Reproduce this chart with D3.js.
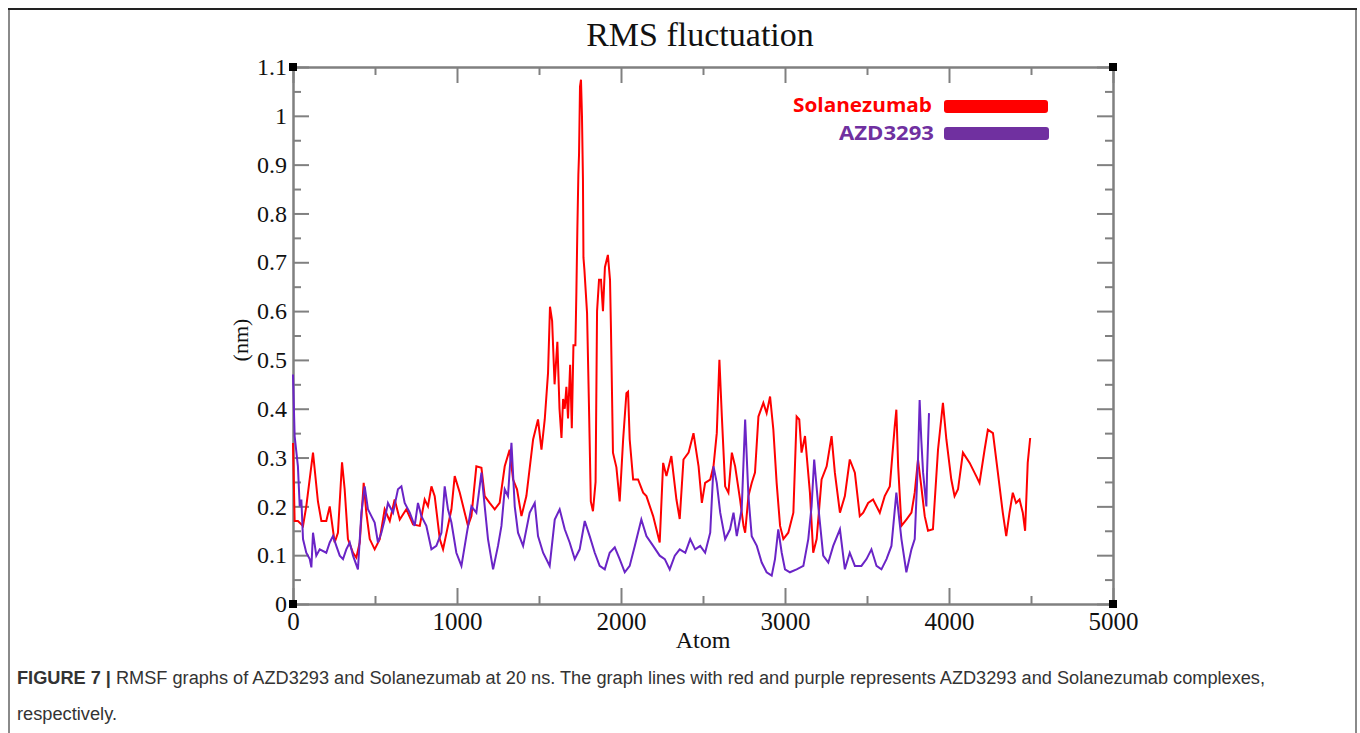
<!DOCTYPE html>
<html>
<head>
<meta charset="utf-8">
<script src="https://cdn.jsdelivr.net/npm/d3@7"></script>
<style>
  body { margin: 0; background: #fff; }
  svg { display: block; }
  .axis path, .axis line { stroke: #808080; stroke-width: 2; }
  .axis text { font-family: "Liberation Serif", "DejaVu Serif", serif; fill: #111; }
</style>
</head>
<body>
<div id="chart"></div>
<script>
let margin = ({top: 67, right: 247, bottom: 129, left: 293});
let width = 820;
let height = 537;

////////////////////////////////
//   Data
////////////////////////////////
let xMajor = [0, 1000, 2000, 3000, 4000, 5000];
let xMinor = [500, 1500, 2500, 3500, 4500];
let yMajor = [0, 0.1, 0.2, 0.3, 0.4, 0.5, 0.6, 0.7, 0.8, 0.9, 1.0, 1.1];
let yMinor = [0.05, 0.15, 0.25, 0.35, 0.45, 0.55, 0.65, 0.75, 0.85, 0.95, 1.05];
let yLabels = ["0", "0.1", "0.2", "0.3", "0.4", "0.5", "0.6", "0.7", "0.8", "0.9", "1", "1.1"];

let seriesNames = ["Solanezumab", "AZD3293"];

let solAtom = [0, 10, 30, 61, 81, 122, 152, 173, 203, 224, 254, 274, 299, 315, 335, 366, 386, 407, 431, 447,
  468, 498, 529, 559, 590, 620, 651, 691, 732, 773, 803, 823, 844, 864, 895, 915, 945, 966, 986, 1017,
  1047, 1067, 1088, 1118, 1149, 1169, 1199, 1230, 1260, 1291, 1321, 1342, 1366, 1393, 1423, 1464, 1494, 1515, 1535, 1555,
  1567, 1580, 1595, 1612, 1625, 1637, 1647, 1657, 1667, 1677, 1690, 1700, 1710, 1722, 1728, 1734, 1740, 1744, 1750, 1756,
  1762, 1768, 1771, 1777, 1793, 1805, 1816, 1829, 1845, 1854, 1866, 1878, 1890, 1902, 1920, 1933, 1939, 1951, 1972, 1992,
  2013, 2033, 2043, 2053, 2074, 2104, 2135, 2155, 2196, 2216, 2236, 2257, 2277, 2307, 2338, 2358, 2381, 2412, 2442, 2473,
  2493, 2513, 2544, 2564, 2584, 2600, 2615, 2635, 2655, 2676, 2696, 2726, 2747, 2757, 2777, 2797, 2817, 2838, 2868, 2888,
  2909, 2929, 2949, 2970, 2990, 3020, 3051, 3071, 3087, 3101, 3122, 3152, 3172, 3193, 3223, 3254, 3284, 3304, 3335, 3365,
  3395, 3426, 3456, 3477, 3507, 3537, 3578, 3608, 3639, 3669, 3679, 3690, 3710, 3740, 3771, 3791, 3811, 3831, 3852, 3872,
  3902, 3933, 3963, 3984, 4014, 4034, 4055, 4085, 4126, 4166, 4186, 4217, 4237, 4268, 4298, 4328, 4349, 4369, 4389, 4409,
  4430, 4450, 4464, 4480, 4495];
let solRmsf = [0.33, 0.17, 0.17, 0.16, 0.20, 0.31, 0.21, 0.17, 0.17, 0.20, 0.126, 0.146, 0.29, 0.235, 0.133, 0.105, 0.095, 0.126, 0.248, 0.187,
  0.133, 0.112, 0.133, 0.194, 0.17, 0.214, 0.173, 0.194, 0.163, 0.16, 0.214, 0.2, 0.241, 0.221, 0.133, 0.112, 0.16, 0.194, 0.262, 0.228,
  0.187, 0.16, 0.18, 0.282, 0.279, 0.221, 0.207, 0.194, 0.207, 0.282, 0.316, 0.255, 0.235, 0.18, 0.221, 0.337, 0.378, 0.316, 0.378, 0.473,
  0.609, 0.58, 0.45, 0.537, 0.40, 0.34, 0.42, 0.40, 0.445, 0.38, 0.49, 0.36, 0.53, 0.53, 0.64, 0.77, 0.88, 0.92, 1.06, 1.074,
  1.0, 0.87, 0.71, 0.684, 0.596, 0.40, 0.21, 0.19, 0.25, 0.60, 0.664, 0.664, 0.60, 0.69, 0.715, 0.664, 0.56, 0.31, 0.28, 0.21,
  0.337, 0.432, 0.435, 0.337, 0.255, 0.255, 0.228, 0.221, 0.18, 0.153, 0.126, 0.289, 0.262, 0.303, 0.214, 0.174, 0.296, 0.31, 0.35, 0.282,
  0.207, 0.248, 0.255, 0.282, 0.35, 0.5, 0.384, 0.241, 0.228, 0.31, 0.282, 0.214, 0.16, 0.146, 0.221, 0.248, 0.269, 0.384, 0.412, 0.391,
  0.425, 0.357, 0.248, 0.16, 0.133, 0.146, 0.187, 0.384, 0.378, 0.31, 0.344, 0.228, 0.105, 0.133, 0.255, 0.282, 0.344, 0.269, 0.187, 0.221,
  0.296, 0.269, 0.18, 0.187, 0.207, 0.214, 0.187, 0.221, 0.241, 0.364, 0.398, 0.282, 0.16, 0.173, 0.187, 0.228, 0.296, 0.241, 0.18, 0.15,
  0.153, 0.316, 0.412, 0.337, 0.255, 0.221, 0.235, 0.31, 0.289, 0.262, 0.248, 0.316, 0.357, 0.35, 0.269, 0.187, 0.139, 0.187, 0.228, 0.207,
  0.214, 0.187, 0.15, 0.289, 0.34];

let azdAtom = [0, 10, 30, 41, 51, 61, 81, 102, 112, 122, 142, 163, 203, 224, 244, 264, 285, 305, 325, 346,
  366, 396, 417, 437, 457, 478, 498, 518, 539, 559, 579, 610, 640, 661, 681, 712, 742, 762, 783, 813,
  844, 874, 905, 925, 945, 966, 996, 1027, 1057, 1088, 1118, 1149, 1169, 1189, 1220, 1250, 1271, 1291, 1311, 1332,
  1352, 1372, 1403, 1443, 1474, 1494, 1525, 1565, 1596, 1626, 1657, 1687, 1718, 1748, 1779, 1809, 1840, 1870, 1901, 1931,
  1962, 1992, 2023, 2053, 2084, 2124, 2155, 2196, 2236, 2267, 2297, 2328, 2358, 2392, 2422, 2452, 2483, 2513, 2544, 2564,
  2584, 2605, 2635, 2665, 2686, 2706, 2736, 2757, 2777, 2797, 2828, 2858, 2888, 2919, 2939, 2959, 2980, 3000, 3030, 3071,
  3112, 3142, 3162, 3178, 3203, 3233, 3264, 3294, 3335, 3365, 3395, 3426, 3466, 3497, 3527, 3558, 3588, 3619, 3649, 3679,
  3710, 3740, 3771, 3791, 3811, 3821, 3831, 3842, 3862, 3866, 3878];
let azdRmsf = [0.47, 0.344, 0.282, 0.2, 0.214, 0.133, 0.105, 0.092, 0.075, 0.146, 0.099, 0.112, 0.105, 0.126, 0.139, 0.119, 0.099, 0.092, 0.112, 0.126,
  0.099, 0.071, 0.187, 0.241, 0.194, 0.18, 0.167, 0.126, 0.146, 0.173, 0.207, 0.187, 0.235, 0.241, 0.207, 0.187, 0.16, 0.207, 0.18, 0.16,
  0.112, 0.119, 0.146, 0.241, 0.194, 0.167, 0.105, 0.078, 0.139, 0.2, 0.187, 0.269, 0.2, 0.133, 0.071, 0.119, 0.16, 0.235, 0.221, 0.33,
  0.2, 0.146, 0.119, 0.187, 0.207, 0.139, 0.105, 0.078, 0.173, 0.194, 0.153, 0.126, 0.092, 0.112, 0.17, 0.139, 0.105, 0.078, 0.071, 0.105,
  0.116, 0.092, 0.065, 0.078, 0.119, 0.173, 0.139, 0.119, 0.099, 0.092, 0.071, 0.099, 0.112, 0.105, 0.133, 0.112, 0.119, 0.105, 0.146, 0.282,
  0.248, 0.187, 0.133, 0.153, 0.187, 0.139, 0.194, 0.378, 0.221, 0.139, 0.119, 0.085, 0.065, 0.058, 0.092, 0.153, 0.105, 0.071, 0.065, 0.071,
  0.078, 0.133, 0.2, 0.296, 0.2, 0.099, 0.085, 0.119, 0.153, 0.071, 0.105, 0.078, 0.078, 0.092, 0.112, 0.078, 0.071, 0.092, 0.119, 0.228,
  0.133, 0.065, 0.112, 0.133, 0.296, 0.418, 0.337, 0.269, 0.2, 0.269, 0.391];

let seriesColors = ["#ff0000", "#6a24c6"];
let legendColors = ["#ff0000", "#7030a0"];

/////////////////////////////
//   Setup Chart Elements
/////////////////////////////
let svg = d3.select("#chart")
  .append("svg")
  .attr("width", width + margin.left + margin.right)
  .attr("height", height + margin.top + margin.bottom);

// figure frame
svg.append("path")
  .attr("d", "M9,740 V9 M1356,9 V740")
  .attr("fill", "none")
  .attr("stroke", "#8a8a8a")
  .attr("stroke-width", 2);
svg.append("line")
  .attr("x1", 8).attr("x2", 1357).attr("y1", 9).attr("y2", 9)
  .attr("stroke", "#222").attr("stroke-width", 2);

svg.append("text")
  .attr("x", margin.left + width / 2 - 3)
  .attr("y", 46)
  .attr("text-anchor", "middle")
  .attr("font-family", "'Liberation Serif', serif")
  .attr("font-size", "34px")
  .attr("fill", "#111")
  .text("RMS fluctuation");

let g = svg.append("g")
  .attr("transform", "translate(" + margin.left + ", " + margin.top + ")");

let x = d3.scaleLinear().domain([0, 5000]).range([0, width]);
let y = d3.scaleLinear().domain([0, 1.1]).range([height, 0]);

// minor ticks on all four sides
g.append("g").attr("class", "axis").attr("transform", "translate(0," + height + ")")
  .call(d3.axisBottom(x).tickValues(xMinor).tickSize(-8).tickSizeOuter(0).tickFormat(""));
g.append("g").attr("class", "axis")
  .call(d3.axisTop(x).tickValues(xMinor).tickSize(-8).tickSizeOuter(0).tickFormat(""));
g.append("g").attr("class", "axis")
  .call(d3.axisLeft(y).tickValues(yMinor).tickSize(-8).tickSizeOuter(0).tickFormat(""));
g.append("g").attr("class", "axis").attr("transform", "translate(" + width + ",0)")
  .call(d3.axisRight(y).tickValues(yMinor).tickSize(-8).tickSizeOuter(0).tickFormat(""));

// major ticks
g.append("g").attr("class", "axis").attr("transform", "translate(0," + height + ")")
  .call(d3.axisBottom(x).tickValues(xMajor).tickSize(-16).tickSizeOuter(0).tickPadding(8).tickFormat(d3.format("d")))
  .selectAll("text").attr("font-size", "25px");
g.append("g").attr("class", "axis")
  .call(d3.axisTop(x).tickValues(xMajor).tickSize(-16).tickSizeOuter(0).tickFormat(""));
g.append("g").attr("class", "axis")
  .call(d3.axisLeft(y).tickValues(yMajor).tickSize(-16).tickSizeOuter(0).tickPadding(6).tickFormat(function(d, i) { return yLabels[i]; }))
  .selectAll("text").attr("font-size", "24px");
g.append("g").attr("class", "axis").attr("transform", "translate(" + width + ",0)")
  .call(d3.axisRight(y).tickValues(yMajor).tickSize(-16).tickSizeOuter(0).tickFormat(""));

g.selectAll(".axis .domain").attr("stroke-width", 2.5);

///////////////////////////
//   Drawing the Lines
///////////////////////////
let line = d3.line()
  .x(function(d) { return x(d[0]); })
  .y(function(d) { return y(d[1]); });

let series = [d3.zip(solAtom, solRmsf), d3.zip(azdAtom, azdRmsf)];

g.append("g")
  .selectAll("path")
  .data(series)
  .enter()
  .append("path")
    .attr("d", line)
    .attr("fill", "none")
    .attr("stroke", function(d, i) { return seriesColors[i]; })
    .attr("stroke-width", 2)
    .attr("stroke-linejoin", "miter");

// corner markers
let corners = [[0, 0], [5000, 0], [0, 1.1], [5000, 1.1]];
g.append("g")
  .selectAll("rect")
  .data(corners)
  .enter()
  .append("rect")
    .attr("x", function(d) { return x(d[0]) - 4; })
    .attr("y", function(d) { return y(d[1]) - 4; })
    .attr("width", 8)
    .attr("height", 8)
    .attr("fill", "#000");

////////////////////
//   Legend
////////////////////
let legend = g.append("g").attr("transform", "translate(" + (width - 181) + ", 0)");
seriesNames.forEach(function(name, i) {
  legend.append("text")
    .attr("x", i == 0 ? 0 : 2)
    .attr("y", 45 + i * 28)
    .attr("text-anchor", "end")
    .attr("font-family", "'Open Sans', sans-serif")
    .attr("font-weight", "bold")
    .attr("font-size", "20px")
    .attr("fill", legendColors[i])
    .attr("textLength", i == 0 ? 139 : 95)
    .attr("lengthAdjust", "spacingAndGlyphs")
    .text(name);
  legend.append("rect")
    .attr("x", 12)
    .attr("y", 33 + i * 27)
    .attr("width", 104 + i)
    .attr("height", 13)
    .attr("rx", 3)
    .attr("fill", legendColors[i]);
});

////////////////////
//   Axis Labels
////////////////////
svg.append("text")
  .attr("x", margin.left + width / 2)
  .attr("y", margin.top + height + 44)
  .attr("text-anchor", "middle")
  .attr("font-family", "'Liberation Serif', serif")
  .attr("font-size", "24px")
  .attr("fill", "#111")
  .text("Atom");

svg.append("text")
  .attr("transform", "rotate(-90)")
  .attr("x", -340)
  .attr("y", 248)
  .attr("text-anchor", "middle")
  .attr("font-family", "'Liberation Serif', serif")
  .attr("font-size", "22px")
  .attr("fill", "#111")
  .text("(nm)");

////////////////////
//   Caption
////////////////////
let cap = svg.append("text")
  .attr("x", 17)
  .attr("y", 684)
  .attr("font-family", "'Liberation Sans', Arial, sans-serif")
  .attr("font-size", "18px")
  .attr("fill", "#333")
  .attr("textLength", 1248)
  .attr("lengthAdjust", "spacingAndGlyphs");
cap.append("tspan").attr("font-weight", "bold").text("FIGURE 7 | ");
cap.append("tspan").text("RMSF graphs of AZD3293 and Solanezumab at 20 ns. The graph lines with red and purple represents AZD3293 and Solanezumab complexes,");

svg.append("text")
  .attr("x", 17)
  .attr("y", 720)
  .attr("font-family", "'Liberation Sans', Arial, sans-serif")
  .attr("font-size", "18px")
  .attr("fill", "#333")
  .attr("textLength", 100)
  .attr("lengthAdjust", "spacingAndGlyphs")
  .text("respectively.");
</script>
</body>
</html>
